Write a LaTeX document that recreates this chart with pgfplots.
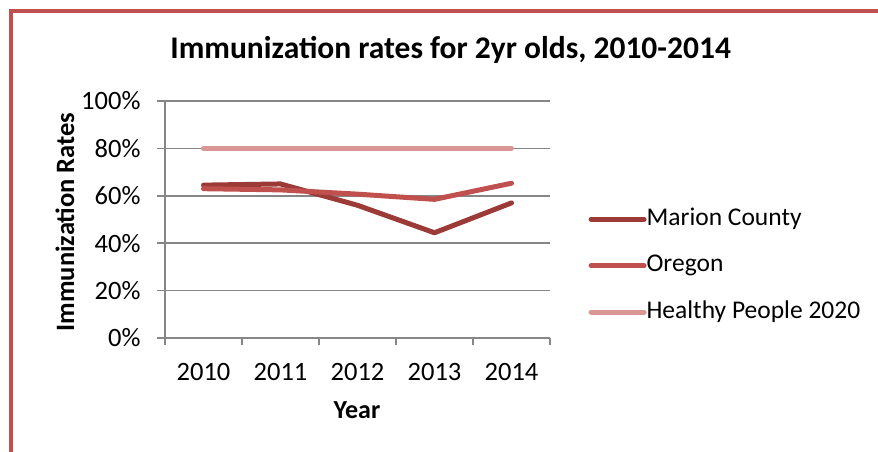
\documentclass[border=0pt]{standalone}
\usepackage{pgfplots}
\pgfplotsset{compat=1.18}
\usepackage{fontspec}
\setmainfont{Carlito}
\definecolor{marion}{HTML}{9B3A37}
\definecolor{oregon}{HTML}{C0504D}
\definecolor{hp}{HTML}{D99694}
\definecolor{gridc}{HTML}{868686}
\definecolor{framec}{HTML}{C0504D}
\begin{document}
\begin{tikzpicture}
\useasboundingbox (0bp,0bp) rectangle (878bp,452bp);
\draw[framec, line width=4bp] (11bp,-30bp) -- (11bp,441bp) -- (920bp,441bp);
\begin{axis}[
  at={(165bp,114bp)}, anchor=south west,
  scale only axis, width=385bp, height=237bp,
  xmin=-0.5, xmax=4.5, ymin=0, ymax=100,
  axis x line*=bottom, axis y line*=left,
  axis line style={gridc, line width=1.5bp, -},
  xtick={0,1,2,3,4},
  xticklabels={2010,2011,2012,2013,2014},
  major x tick style={draw=none},
  minor xtick={-0.5,0.5,1.5,2.5,3.5,4.5},
  minor tick length=7bp,
  minor x tick style={gridc, line width=1.5bp},
  ytick={0,20,40,60,80,100},
  yticklabel={\pgfmathprintnumber{\tick}\%},
  major tick length=8bp,
  tick align=outside,
  y tick style={gridc, line width=1.5bp},
  ymajorgrids, grid style={gridc, line width=1.5bp},
  tick label style={font=\fontsize{26.5bp}{31bp}\selectfont},
  /pgf/number format/assume math mode=true,
  yticklabel style={xshift=-13bp},
  xticklabel style={yshift=-14bp},
  xlabel={Year},
  ylabel={Immunization Rates},
  xlabel style={font=\bfseries\fontsize{26bp}{30bp}\selectfont, at={(axis description cs:0.4987,-0.304)}, anchor=center},
  ylabel style={font=\bfseries\fontsize{26.5bp}{30bp}\selectfont, at={(axis description cs:-0.26,0.49)}, anchor=center, rotate=0},
  title={Immunization rates for 2yr olds, 2010-2014},
  title style={font=\bfseries\fontsize{31.5bp}{36bp}\selectfont, at={(axis description cs:0.742,1.19)}, anchor=center},
  legend style={at={(axis description cs:1.092,0.305)}, anchor=west, draw=none, fill=none,
    font=\fontsize{25.5bp}{30bp}\selectfont, row sep=22.5bp,
    nodes={inner ysep=0pt, inner xsep=0pt, text height=18bp, text depth=6bp}},
  legend cell align=left,
  legend image code/.code={\draw[#1, line cap=round] (0bp,0bp) -- (53bp,0bp);},
  every axis plot/.append style={line width=5bp, line cap=round, line join=round},
  clip=false,
]
\addplot[marion] coordinates {(0,64.5) (1,65) (2,56) (3,44.4) (4,57)};
\addlegendentry{Marion County}
\addplot[oregon] coordinates {(0,63) (1,62.5) (2,60.7) (3,58.5) (4,65.3)};
\addlegendentry{Oregon}
\addplot[hp] coordinates {(0,80) (1,80) (2,80) (3,80) (4,80)};
\addlegendentry{Healthy People 2020}
\end{axis}
\end{tikzpicture}
\end{document}
